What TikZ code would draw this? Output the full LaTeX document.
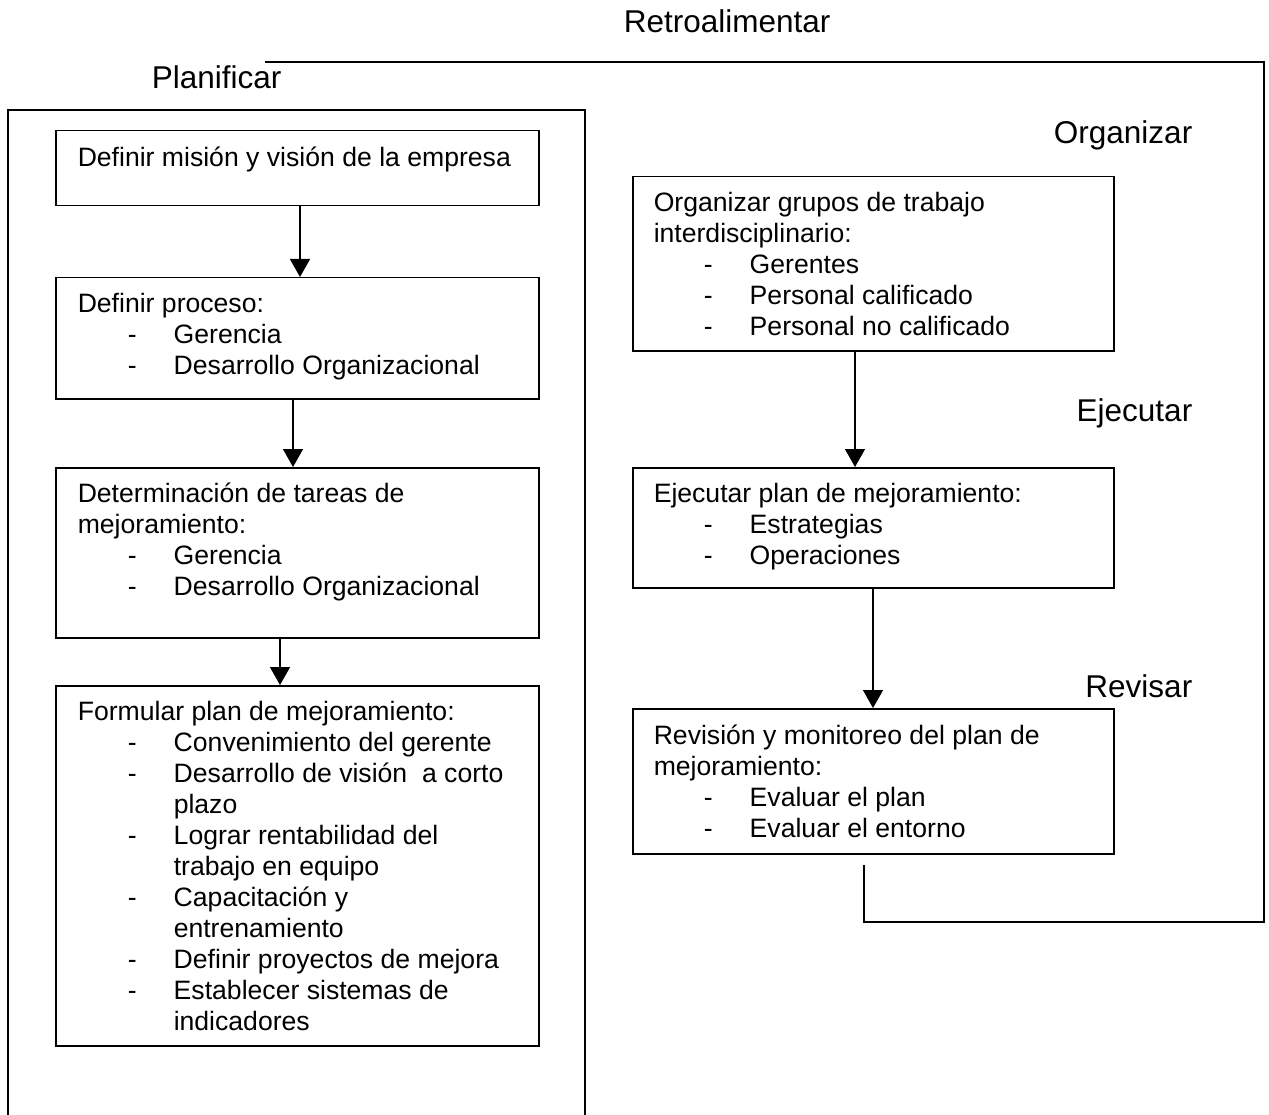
\documentclass[tikz,border=0pt]{standalone}
\usepackage{fontspec}
\setmainfont{Liberation Sans}
\usetikzlibrary{arrows.meta}
\newcommand\itm[1]{\hspace*{50pt}\makebox[46pt][l]{-}#1}
\newcommand\cnt[1]{\hspace*{96pt}#1}
\newcommand\fst{\rule{0pt}{24pt}}
\begin{document}
\begin{tikzpicture}[x=1pt,y=-1pt,
  line width=1.5pt,
  boxst/.style={draw, line width=1.5pt, rectangle, inner sep=0pt, anchor=north west},
  txt/.style={anchor=north west, inner sep=0pt, align=left, font=\fontsize{26.6}{31}\selectfont},
  lbl/.style={inner sep=0pt, font=\fontsize{31.5}{36}\selectfont},
  arr/.style={-{Triangle[width=20pt,length=18pt]}, line width=1.5pt},
  fb/.style={line width=1.5pt}]
\useasboundingbox (0,0) rectangle (1269,1115);
% outer frame (open at bottom)
\draw[line width=1.5pt] (8,1120) -- (8,110) -- (585,110) -- (585,1120);
% boxes
\node[boxst, minimum width=483pt, minimum height=75pt] (b1) at (55,130) {};
\node[boxst, minimum width=483pt, minimum height=121pt] (b2) at (55,277) {};
\node[boxst, minimum width=483pt, minimum height=170pt] (b3) at (55,467) {};
\node[boxst, minimum width=483pt, minimum height=360pt] (b4) at (55,685) {};
\node[boxst, minimum width=481pt, minimum height=174pt] (b5) at (632,176) {};
\node[boxst, minimum width=481pt, minimum height=120pt] (b6) at (632,467) {};
\node[boxst, minimum width=481pt, minimum height=145pt] (b7) at (632,708) {};
% texts
\node[txt] (t1) at ([shift={(22pt,-12pt)}]b1.north west) {\fst Definir misión y visión de la empresa};
\node[txt] (t2) at ([shift={(22pt,-11pt)}]b2.north west) {\fst Definir proceso:\\ \itm{Gerencia}\\ \itm{Desarrollo Organizacional}};
\node[txt] (t3) at ([shift={(22pt,-11pt)}]b3.north west) {\fst Determinación de tareas de\\ mejoramiento:\\ \itm{Gerencia}\\ \itm{Desarrollo Organizacional}};
\node[txt] (t4) at ([shift={(22pt,-11pt)}]b4.north west) {\fst Formular plan de mejoramiento:\\ \itm{Convenimiento del gerente}\\ \itm{Desarrollo de visión\ \ a corto}\\ \cnt{plazo}\\ \itm{Lograr rentabilidad del}\\ \cnt{trabajo en equipo}\\ \itm{Capacitación y}\\ \cnt{entrenamiento}\\ \itm{Definir proyectos de mejora}\\ \itm{Establecer sistemas de}\\ \cnt{indicadores}};
\node[txt] (t5) at ([shift={(21pt,-11pt)}]b5.north west) {\fst Organizar grupos de trabajo\\ interdisciplinario:\\ \itm{Gerentes}\\ \itm{Personal calificado}\\ \itm{Personal no calificado}};
\node[txt] (t6) at ([shift={(21pt,-11pt)}]b6.north west) {\fst Ejecutar plan de mejoramiento:\\ \itm{Estrategias}\\ \itm{Operaciones}};
\node[txt] (t7) at ([shift={(21pt,-12pt)}]b7.north west) {\fst Revisión y monitoreo del plan de\\ mejoramiento:\\ \itm{Evaluar el plan}\\ \itm{Evaluar el entorno}};
% labels
\node[lbl, anchor=base west] (lr) at (623,33) {Retroalimentar};
\node[lbl, anchor=base west] (lp) at (151,89) {Planificar};
\node[lbl, anchor=base east] (lo) at (1193,144) {Organizar};
\node[lbl, anchor=base east] (le) at (1193,421) {Ejecutar};
\node[lbl, anchor=base east] (lv) at (1193,697) {Revisar};
% arrows
\draw[arr] (b1.south west -| 300,0) -- (b2.north west -| 300,0);
\draw[arr] (b2.south west -| 293,0) -- (b3.north west -| 293,0);
\draw[arr] (b3.south west -| 280,0) -- (b4.north west -| 280,0);
\draw[arr] (b5.south west -| 855,0) -- (b6.north west -| 855,0);
\draw[arr] (b6.south west -| 873,0) -- (b7.north west -| 873,0);
% feedback line
\coordinate (f0) at (265,62);
\coordinate (f1) at (1264,62);
\coordinate (f2) at (1264,922);
\coordinate (f3) at (864,922);
\coordinate (f4) at (864,865);
\draw[fb] (f0) -- (f1) -- (f2) -- (f3) -- (f4);
\end{tikzpicture}
\end{document}
